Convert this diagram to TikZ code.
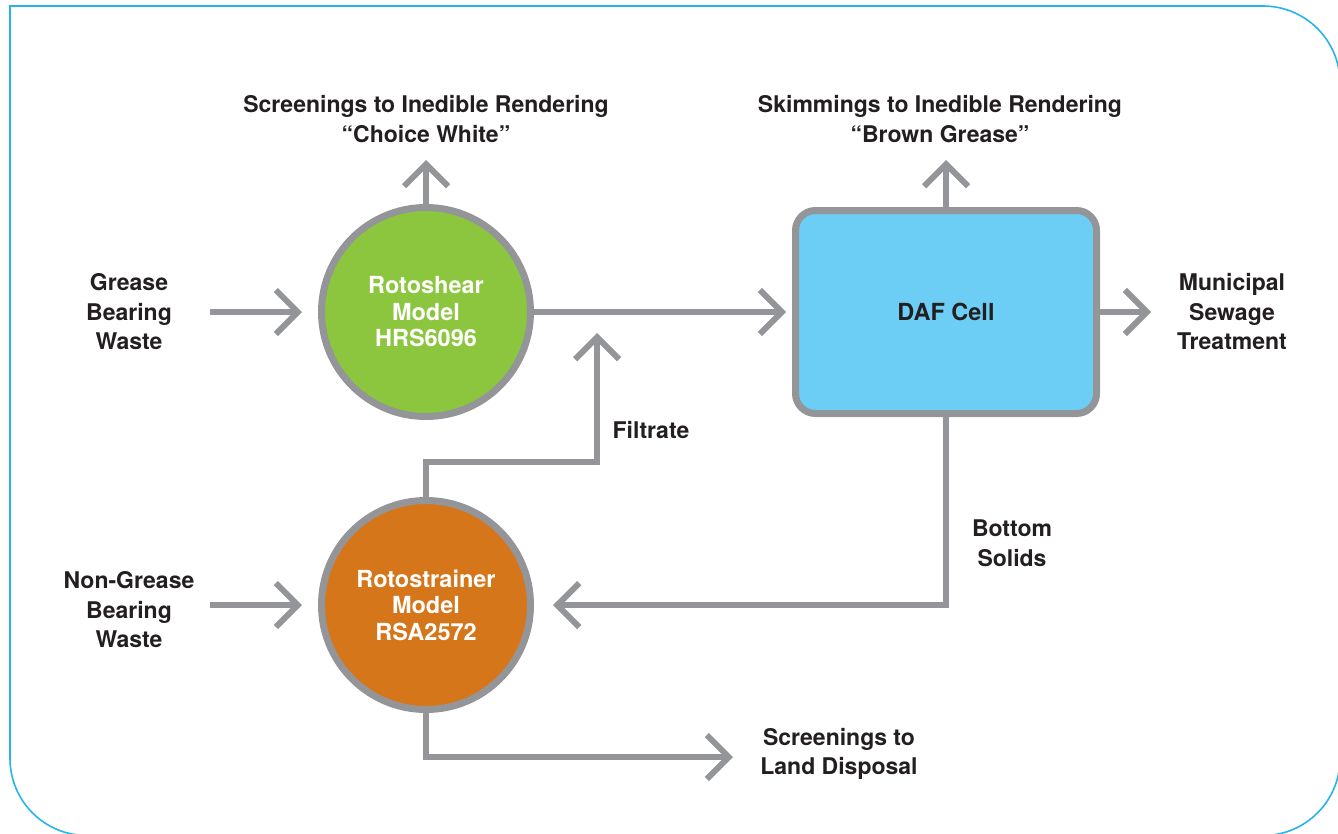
\documentclass[tikz,border=0pt]{standalone}
\usepackage{fontspec}
\setmainfont{TeX Gyre Heros}
\usetikzlibrary{arrows.meta}
\definecolor{pipe}{HTML}{939598}
\definecolor{framecyan}{HTML}{27B4EA}
\definecolor{sheargreen}{HTML}{8CC63F}
\definecolor{strainorange}{HTML}{D6761B}
\definecolor{dafblue}{HTML}{6CCEF5}
\definecolor{ink}{HTML}{231F20}
\tikzset{
  flow/.style={draw=pipe, line width=6pt, -{Straight Barb[length=22pt,width=44pt]}},
  unit/.style={circle, draw=pipe, line width=7pt, minimum size=209pt, inner sep=0pt,
    text=white, align=center, font=\bfseries\fontsize{23.5}{26.5}\selectfont},
  tank/.style={rectangle, rounded corners=20pt, draw=pipe, line width=7pt, fill=dafblue,
    minimum width=301pt, minimum height=203pt, text=ink, font=\bfseries\fontsize{23.5}{26}\selectfont},
  tag/.style={text=ink, align=center, font=\bfseries\fontsize{23}{29.5}\selectfont},
}

\begin{document}
\begin{tikzpicture}[x=1pt,y=-1pt]
    \useasboundingbox (0,0) rectangle (1338,833);
    \draw[framecyan, line width=1.6pt] (10,6) [rounded corners=77pt] -- (1340,6)
        -- (1340,835.5) -- (10,835.5) [sharp corners] -- cycle;

    \node[unit, fill=sheargreen] at (426,312) (shear) {Rotoshear\\Model\\HRS6096};
    \node[unit, fill=strainorange] at (426,605) (strainer) {Rotostrainer\\Model\\RSA2572};
    \node[tank] at (946,312) (daf) {DAF Cell};

    \node[tag] at (426,119) (screenings) {Screenings to Inedible Rendering\\``Choice White''};
    \node[tag] at (940,119) (skimmings) {Skimmings to Inedible Rendering\\``Brown Grease''};
    \node[tag] at (129,312) (grease) {Grease\\Bearing\\Waste};
    \node[tag] at (129,610) (nongrease) {Non-Grease\\Bearing\\Waste};
    \node[tag] at (1232,312) (sewage) {Municipal\\Sewage\\Treatment};
    \node[tag] at (651,430) (filtrate) {Filtrate};
    \node[tag] at (1012,543) (solids) {Bottom\\Solids};
    \node[tag] at (839,754) (land) {Screenings to\\Land Disposal};

    \coordinate (greaseIn) at (210,312);
    \coordinate (greaseTip) at (302,312);
    \coordinate (otherIn) at (210,605);
    \coordinate (otherTip) at (302,605);
    \coordinate (screenTip) at (426,160);
    \coordinate (dafTip) at (786,312);
    \coordinate (skimTip) at (946,160);
    \coordinate (sewageTip) at (1151,312);
    \coordinate (filtTip) at (597,333);
    \coordinate (solidsTip) at (553,605);
    \coordinate (landTip) at (733,757);

    \draw[flow] (greaseIn) -- (greaseTip);
    \draw[flow] (otherIn) -- (otherTip);
    \draw[flow] (shear.north) -- (screenTip);
    \draw[flow] (shear.east) -- (dafTip);
    \draw[flow] (daf.north) -- (skimTip);
    \draw[flow] (daf.east) -- (sewageTip);
    \draw[flow] (strainer.north) -- ++(0,-35) -| (filtTip);
    \draw[flow] (daf.south) |- (solidsTip);
    \draw[flow] (strainer.south) |- (landTip);
\end{tikzpicture}
\end{document}
